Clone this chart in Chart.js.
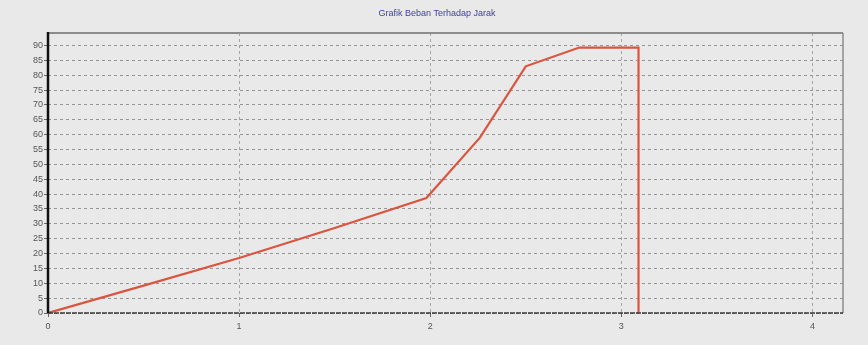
<!DOCTYPE html>
<html>
<head>
<meta charset="utf-8">
<script src="https://cdn.jsdelivr.net/npm/chart.js@4/dist/chart.umd.min.js"></script>
<style>
  html, body { margin: 0; padding: 0; background: #e9e9e9; }
  #wrap { width: 868px; height: 345px; }
</style>
</head>
<body>
<div id="wrap"><canvas id="c" width="868" height="345"></canvas></div>
<script>
// Jarak (x) and Beban (y) readings
const jarak = [0, 0.5, 1, 1.5, 1.98, 2.26, 2.5, 2.78, 3.09, 3.09];
const beban = [0, 9.2, 18.5, 28.6, 38.7, 59, 83, 89.3, 89.3, 0];
const xTicks = [0, 1, 2, 3, 4];
const yTicks = [0, 5, 10, 15, 20, 25, 30, 35, 40, 45, 50, 55, 60, 65, 70, 75, 80, 85, 90];
const chartTitle = 'Grafik Beban Terhadap Jarak';

const points = jarak.map((x, i) => ({ x: x, y: beban[i] }));

// title, axis lines and grey frame around the plot area
const frame = {
  id: 'frame',
  afterDraw(chart) {
    const { ctx, chartArea: a } = chart;
    ctx.save();
    // top and right frame
    ctx.strokeStyle = '#8c8c8c';
    ctx.lineWidth = 2;
    ctx.beginPath();
    ctx.moveTo(a.left, a.top);
    ctx.lineTo(a.right, a.top);
    ctx.stroke();
    ctx.lineWidth = 1.5;
    ctx.beginPath();
    ctx.moveTo(a.right, a.top);
    ctx.lineTo(a.right, a.bottom);
    ctx.stroke();
    // bottom axis
    ctx.strokeStyle = '#3a3a3a';
    ctx.lineWidth = 1.5;
    ctx.setLineDash([5, 1]);
    ctx.beginPath();
    ctx.moveTo(a.left, a.bottom);
    ctx.lineTo(a.right, a.bottom);
    ctx.stroke();
    ctx.setLineDash([]);
    // left axis
    ctx.strokeStyle = '#111';
    ctx.lineWidth = 2.5;
    ctx.beginPath();
    ctx.moveTo(a.left, a.top - 1);
    ctx.lineTo(a.left, a.bottom);
    ctx.stroke();
    // title
    ctx.fillStyle = '#3e3ea4';
    ctx.font = '9px "Liberation Sans", Arial, sans-serif';
    ctx.textAlign = 'center';
    ctx.textBaseline = 'middle';
    ctx.fillText(chartTitle, 437, 14);
    ctx.restore();
  }
};

new Chart(document.getElementById('c'), {
  type: 'scatter',
  data: {
    datasets: [{
      data: points,
      showLine: true,
      borderColor: '#d9553f',
      backgroundColor: '#d9553f',
      borderWidth: 2.2,
      pointRadius: 0,
      tension: 0
    }]
  },
  options: {
    responsive: false,
    animation: false,
    layout: { padding: { left: 0, right: 25, top: 33, bottom: 0 } },
    plugins: {
      legend: { display: false },
      tooltip: { enabled: false },
      title: { display: false }
    },
    scales: {
      x: {
        type: 'linear',
        min: 0,
        max: 4.16,
        afterBuildTicks: s => { s.ticks = xTicks.map(v => ({ value: v })); },
        afterFit: s => { s.height = 32; },
        ticks: {
          includeBounds: false,
          color: '#555',
          padding: 4,
          font: { family: 'Liberation Sans, Arial, sans-serif', size: 9 }
        },
        grid: {
          color: '#a4a4a4',
          lineWidth: 1,
          tickLength: 4,
          tickColor: '#666'
        },
        border: { display: false, dash: [3, 3] }
      },
      y: {
        type: 'linear',
        min: 0,
        max: 94.2,
        afterBuildTicks: s => { s.ticks = yTicks.map(v => ({ value: v })); },
        afterFit: s => { s.width = 48; },
        ticks: {
          includeBounds: false,
          color: '#555',
          padding: 1,
          font: { family: 'Liberation Sans, Arial, sans-serif', size: 9 }
        },
        grid: {
          color: '#959595',
          lineWidth: 1,
          tickLength: 4,
          tickColor: '#666'
        },
        border: { display: false, dash: [3, 3] }
      }
    }
  },
  plugins: [frame]
});
</script>
</body>
</html>
